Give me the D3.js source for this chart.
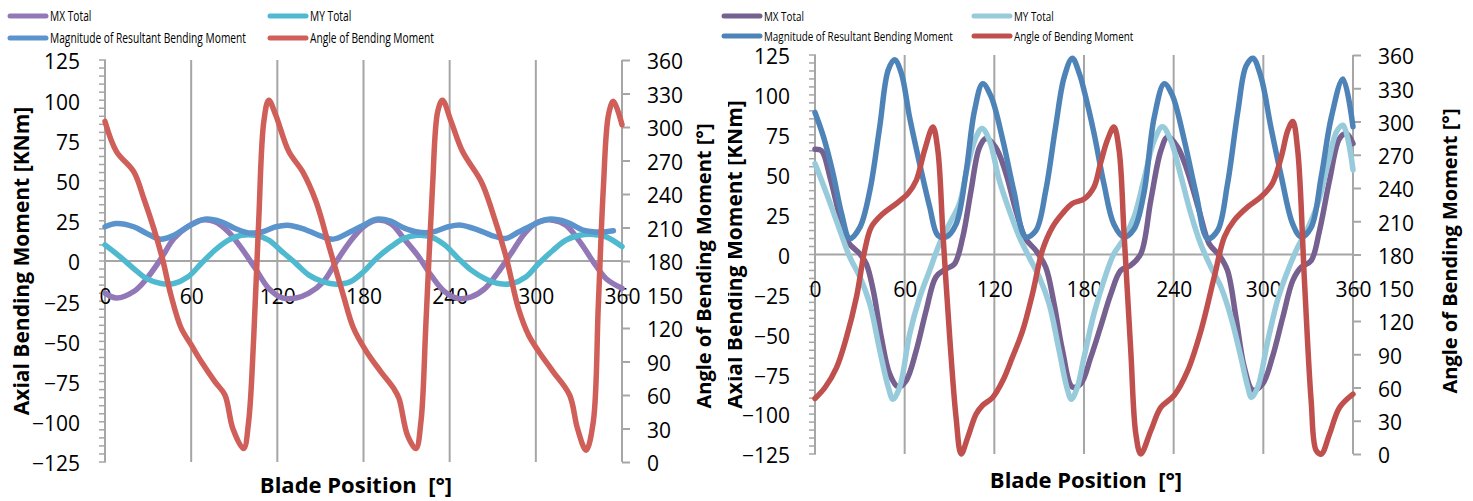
<!DOCTYPE html>
<html>
<head>
<meta charset="utf-8">
<script src="https://cdn.jsdelivr.net/npm/d3@7"></script>
<style>
  body { margin: 0; background: #fff; }
  svg { display: block; }
  text { font-family: "Open Sans", "Liberation Sans", sans-serif; fill: #000; }
</style>
</head>
<body>
<svg id="chart" width="1473" height="501"></svg>
<script>
// shared axis values
const xTicks = [0, 60, 120, 180, 240, 300, 360];
const momentTicks = d3.range(-125, 126, 25);
const momentMinor = d3.range(-125, 126, 5);
const angleTicks = d3.range(0, 361, 30);
const seriesNames = ["MX Total", "MY Total", "Magnitude of Resultant Bending Moment", "Angle of Bending Moment"];

// left chart, [blade position deg, value]
const leftMX = [[0,-20],[8,-23],[20,-19],[29,-11],[39,1.5],[48,14],[57.6,21.3],[67,25.4],[76.5,24.4],[86,18],[95,8],[104.7,-4.7],[114,-17],[123.5,-23],[133,-23],[142,-20],[152,-13],[161,-0.5],[170.6,12],[180,21.3],[189,25.4],[199,23.3],[208,14],[217.6,3.6],[227,-8.8],[236.5,-19],[246,-23.3],[255,-22.3],[264.7,-17],[274,-6.7],[283.5,5.7],[293,18],[302,24.4],[312,25.4],[321,22.3],[330.6,12],[340,-0.5],[349,-11],[360,-17]];
const leftMY = [[0,10],[10.6,2.6],[20,-4.7],[29,-11],[39,-14],[48,-14],[57.6,-10],[67,-1.6],[76.5,6.7],[86,13],[95,16],[104.7,16],[114,13],[123.5,5.7],[133,-1.6],[142,-8.8],[152,-13],[161,-14.4],[170.6,-13],[180,-6.7],[189,1.6],[199,8.8],[208,14],[217.6,16],[227,15],[236.5,10],[246,1.6],[255,-5.7],[264.7,-11],[274,-14],[283.5,-14],[293,-10],[302,-1.6],[312,6.7],[321,13],[330.6,16],[340,16.5],[349,15],[360,9]];
const leftMag = [[0,21.3],[8,23.3],[20,21.3],[29.4,17],[38.8,13.6],[48,16],[57.6,21.3],[69.4,26],[81,24.4],[90.6,20.2],[100,17.5],[109,18],[119,21.3],[127,22.3],[137.6,20.2],[149,16],[159,13.6],[170.6,18],[180,22.3],[189,26],[199,24.8],[208,20.6],[217.6,18],[228,18],[239,21.3],[248,22.3],[260,19.2],[269,16],[279,14],[288,18],[300,23.3],[309,26],[321,24.4],[333,19.2],[344.7,18],[354,18.8]];
const leftAngle = [[0,305],[8,278],[20,260],[27,236],[34,209],[40,182],[46,149],[53,120],[60,105],[67,90],[76.5,72],[83.5,60],[89,30],[96.5,12],[100,36],[103.5,110],[107,215],[110.6,305],[114,324],[118.8,311],[128,278],[137.6,260],[147,233],[156.5,191],[166,149],[173,120],[182,99],[192,81],[201,66],[204.7,57],[210.6,24],[216.5,12],[220,36],[223.5,125],[228,245],[231.7,314],[235,324],[241,305],[249,278],[262,251],[269,227],[279,185],[288,137],[295,113.5],[302,99],[312,81],[323.5,60],[329,30],[335,10.5],[340,36],[343.5,140],[347,245],[350.6,311],[354,323],[360,302]];

// right chart
const rightMX = [[0,66],[4.4,65],[10,48.6],[16.7,23.5],[22.2,7.7],[30,0.4],[34.4,-6],[39,-22.6],[44.4,-52],[50,-75],[55.6,-83],[61,-79],[67.8,-60],[74.4,-35],[81,-14],[87.8,-9],[93.3,-6],[98.9,11],[104.4,40],[110,67],[114.4,72.7],[121,67],[127.8,50.7],[134.4,27.6],[141,9.8],[147.8,2.5],[154.4,-8],[160,-31],[165.6,-60],[172.2,-83],[177.8,-81],[184.5,-64.5],[191,-45.6],[198,-24.7],[204.6,-10],[211,-7],[218,0.4],[224.7,34],[231.4,65],[236,73.7],[242.6,67.4],[249,52.8],[257,27.6],[263.8,6.7],[270.6,-0.6],[276,-10],[281.7,-39.4],[287.3,-70.8],[293,-85],[299.6,-81],[306,-64.5],[313,-39.4],[319.7,-16.3],[325.3,-8],[332,-3.8],[337.6,15],[344.3,46.5],[351,72.7],[355.5,75.8],[360,69.5]];
const rightMY = [[0,57],[7.8,38],[16.7,15],[23.3,-1.7],[30,-14],[36.7,-31],[43.3,-60],[49,-83],[52.2,-90.7],[56.7,-83],[63.3,-50],[70,-27],[76.7,-10],[83.3,6.7],[90,19.3],[96.7,32],[102,55],[107.8,73.7],[111.8,79],[116.7,71.6],[123.3,46.5],[130,27.6],[136.7,11],[143.3,-1.7],[150,-14],[156.7,-31],[163.3,-60],[169,-85],[171.5,-90.7],[175.6,-83],[180,-64.5],[186.7,-37],[193.4,-16],[200,0.4],[206.8,10],[213.5,23.5],[220,46.5],[227,71.6],[232.5,80],[238,71.6],[245,48.6],[251.5,25.5],[258,6.7],[265,-8],[271.7,-20.5],[278.4,-39.4],[285,-64.5],[289.6,-83],[292,-89.6],[296.3,-83],[303,-54],[310,-27],[316.4,-10],[323,4.6],[330,17],[336.5,32],[343.3,57],[349,77],[353.3,81],[360,53]];
const rightMag = [[0,89],[5.6,74],[12,51],[17.8,25.5],[23.3,10],[30,17],[36.7,40],[43.3,80],[49,115.6],[53.3,122],[57.8,113.5],[63.3,86],[70,57],[76.7,30],[82.2,12],[87.8,11],[94.4,19],[101,51],[106.7,90],[112.2,107],[117.8,99],[125.6,72],[133,40],[141,11],[147.8,15],[154.4,40],[161,80],[166.7,111],[172.2,123],[177,113],[180,103],[186.7,76],[193.4,44],[200,19],[206.8,11],[213.5,16],[220,38],[227,86],[233.7,107],[239,100],[247,72],[255,38],[262.7,10],[269.4,15],[276,44],[283,90],[288.4,118],[293,123],[298.5,111],[305,80],[312,49],[319.7,19],[325.3,11],[332,17],[338.8,49],[345.5,86],[353.3,110],[360,80]];
const rightAngle = [[0,50],[6.7,60],[14.4,78],[21,105],[27.8,142],[33.3,184],[37.8,205],[45.6,217],[54.4,226],[62.2,235],[67.8,247],[73.3,274],[78.9,295],[82.2,274],[85.6,199],[90,108],[94.4,33],[97.8,0],[102.2,15],[107.8,36],[112.2,44],[118.9,51],[125.6,66],[132,87],[139,111.5],[145.6,145],[152.2,184],[159,205],[165.6,217],[172.2,226],[180,230],[186.7,241],[191,262],[195.6,283],[200,295],[203.5,274],[206.8,199],[211.3,93],[214.7,18],[218,0],[224.7,21],[231.4,42],[240.4,53],[249.3,75],[258.3,111.5],[267.2,160],[274,196],[280.6,211],[289.6,223],[298.5,232],[306,244],[312,268],[316.4,292],[319.7,300],[323,274],[327.6,154],[332,48],[335.4,3],[338.8,0],[344.3,18],[351,42],[360,54]];

const svg = d3.select("#chart");
const grey = "#a6a6a6";

function drawPanel(p) {
  const g = svg.append("g");
  const x = d3.scaleLinear().domain([0, 360]).range([p.x0, p.x1]);
  const yM = d3.scaleLinear().domain([-125, 125]).range([p.yBot, p.yTop]);
  const yA = d3.scaleLinear().domain([0, 360]).range([p.yBot, p.yTop]);

  // vertical grid
  g.selectAll(".vgrid").data(xTicks).enter().append("line")
    .attr("x1", d => x(d)).attr("x2", d => x(d))
    .attr("y1", p.yTop).attr("y2", p.yBot)
    .attr("stroke", grey).attr("stroke-width", 2);

  // zero line
  g.append("line")
    .attr("x1", p.x0).attr("x2", p.x1)
    .attr("y1", yM(0)).attr("y2", yM(0))
    .attr("stroke", grey).attr("stroke-width", 2);

  // left axis minor ticks
  g.selectAll(".mtick").data(momentMinor).enter().append("line")
    .attr("x1", p.x0 - 6).attr("x2", p.x0 + 1)
    .attr("y1", d => yM(d)).attr("y2", d => yM(d))
    .attr("stroke", grey).attr("stroke-width", 1.5);

  // left axis labels
  g.append("g")
    .attr("transform", `translate(${p.x0},0)`)
    .call(d3.axisLeft(yM).tickValues(momentTicks).tickSize(0).tickPadding(25))
    .call(a => a.select(".domain").remove())
    .selectAll("text").attr("font-size", 21).attr("dy", "0.42em")
    .style("font-family", "'Open Sans', sans-serif");

  // right axis
  const ra = g.append("g")
    .attr("transform", `translate(${p.x1},0)`)
    .call(d3.axisRight(yA).tickValues(angleTicks).tickSize(8).tickPadding(17));
  ra.select(".domain").remove();
  ra.selectAll("line").attr("stroke", grey).attr("stroke-width", 2);
  ra.selectAll("text").attr("font-size", 21).attr("dy", "0.42em")
    .style("font-family", "'Open Sans', sans-serif");

  // x labels beside the zero line
  g.append("g")
    .attr("transform", `translate(0,${yM(0)})`)
    .call(d3.axisBottom(x).tickValues(xTicks).tickSize(0).tickPadding(28))
    .call(a => a.select(".domain").remove())
    .selectAll("text").attr("font-size", 21)
    .style("font-family", "'Open Sans', sans-serif");

  // series
  const line = (ys) => d3.line().x(d => x(d[0])).y(d => ys(d[1])).curve(d3.curveCatmullRom.alpha(0.5));
  const sets = [[p.mx, yM], [p.my, yM], [p.mag, yM], [p.ang, yA]];
  sets.forEach((s, i) => {
    g.append("path").datum(s[0])
      .attr("d", line(s[1]))
      .attr("fill", "none")
      .attr("stroke", p.colors[i])
      .attr("stroke-width", 5.5)
      .attr("stroke-linejoin", "round")
      .attr("stroke-linecap", "round");
  });

  // legend (text squeezed horizontally, like a narrow face)
  const lg = g.append("g");
  seriesNames.forEach((name, i) => {
    const lx = p.legX[i % 2], ly = p.legY[Math.floor(i / 2)];
    lg.append("line")
      .attr("x1", lx + 2).attr("x2", lx + 38)
      .attr("y1", ly).attr("y2", ly)
      .attr("stroke", p.colors[i]).attr("stroke-width", 5)
      .attr("stroke-linecap", "round");
    lg.append("text")
      .attr("transform", `translate(${lx + 42},${ly}) scale(${p.legSqueeze},1)`)
      .attr("dy", "0.36em")
      .attr("font-size", p.legFont)
      .text(name);
  });

  // axis titles
  const ltHolder = p.clipId ? g.append("g").attr("clip-path", `url(#${p.clipId})`) : g;
  ltHolder.append("text")
    .attr("transform", `translate(${p.leftTitleX},${(p.yTop + p.yBot) / 2}) rotate(-90)`)
    .attr("text-anchor", "middle").attr("dy", "0.35em")
    .attr("font-size", 21)
    .attr("font-weight", "bold")
    .text("Axial Bending Moment [KNm]");

  g.append("text")
    .attr("transform", `translate(${p.rightTitleX},${p.rightTitleY}) rotate(-90)`)
    .attr("text-anchor", "middle").attr("dy", "0.35em")
    .attr("font-size", 20).attr("font-weight", "bold")
    .text("Angle of Bending Moment [°]");

  g.append("text")
    .attr("x", p.bottomTitleX).attr("y", p.bottomTitleY)
    .attr("text-anchor", "middle")
    .attr("font-size", 22).attr("font-weight", "bold")
    .style("white-space", "pre")
    .text("Blade Position  [°]");
}

// clip so the right chart's left title is cut like in the source image
svg.append("defs").append("clipPath").attr("id", "rclip")
  .attr("clipPathUnits", "userSpaceOnUse")
  .append("rect").attr("x", 728).attr("y", 0).attr("width", 100).attr("height", 501);

drawPanel({
  x0: 105, x1: 622, yTop: 60, yBot: 462,
  mx: leftMX, my: leftMY, mag: leftMag, ang: leftAngle,
  colors: ["#9378b8", "#4fb9cf", "#5b93cc", "#cf5f58"],
  legX: [8, 268], legY: [16, 38], legFont: 14, legSqueeze: 0.73,
  leftTitleX: 22,
  rightTitleX: 704, rightTitleY: 266,
  bottomTitleX: 356, bottomTitleY: 493
});

drawPanel({
  x0: 815, x1: 1353, yTop: 55, yBot: 454,
  mx: rightMX, my: rightMY, mag: rightMag, ang: rightAngle,
  colors: ["#76608f", "#97cbdc", "#4e83b8", "#c0504d"],
  legX: [722, 972], legY: [16, 36], legFont: 13.5, legSqueeze: 0.73,
  leftTitleX: 735, clipId: "rclip",
  rightTitleX: 1450, rightTitleY: 251,
  bottomTitleX: 1086, bottomTitleY: 488
});
</script>
</body>
</html>
